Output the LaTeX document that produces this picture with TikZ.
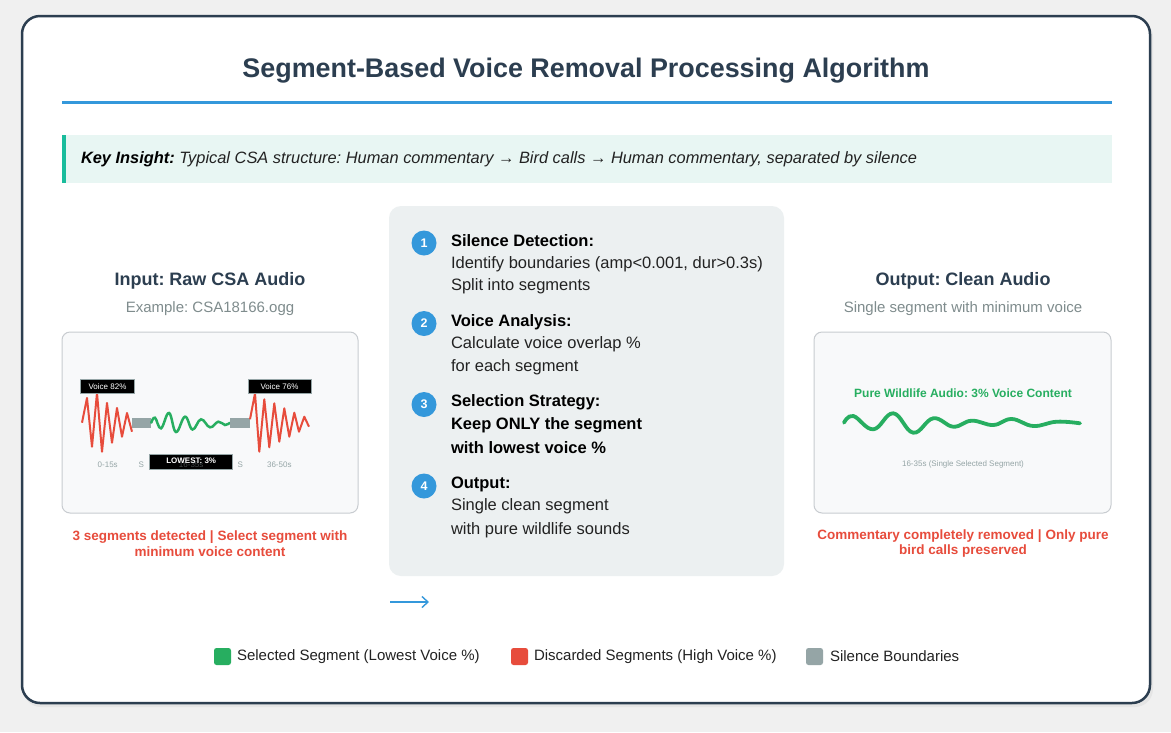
\documentclass[tikz,border=0pt]{standalone}
\usepackage{fontspec}
\setmainfont{Liberation Sans}
\usetikzlibrary{arrows.meta}
\definecolor{cbg}{HTML}{F0F0F0}
\definecolor{cdark}{HTML}{2C3E50}
\definecolor{cblue}{HTML}{3498DB}
\definecolor{cteal}{HTML}{1ABC9C}
\definecolor{ctealbg}{HTML}{E8F6F3}
\definecolor{cgray}{HTML}{7F8C8D}
\definecolor{csil}{HTML}{95A5A6}
\definecolor{cred}{HTML}{E74C3C}
\definecolor{cgreen}{HTML}{27AE60}
\definecolor{cpanel}{HTML}{ECF0F1}
\definecolor{cwave}{HTML}{F8F9FA}
\definecolor{cborder}{HTML}{C8CCD0}
\definecolor{ctext}{HTML}{222222}
\newcommand{\fsz}[1]{\fontsize{#1}{#1}\selectfont}
\frenchspacing
\begin{document}
\frenchspacing
\begin{tikzpicture}[x=1pt,y=-1pt,
  txt/.style={inner sep=0pt, outer sep=0pt},
  ptitle/.style={txt, font=\fsz{18}\bfseries, text=cdark},
  psub/.style={txt, font=\fsz{15}, text=cgray},
  redcap/.style={txt, font=\fsz{13.5}\bfseries, text=cred, align=center},
  stepnum/.style={circle, fill=cblue, minimum size=25pt, inner sep=0pt, text=white, font=\fsz{12.5}\bfseries},
  stephead/.style={txt, anchor=west, font=\fsz{16.5}\bfseries, text=black},
  stepline/.style={txt, anchor=west, font=\fsz{16.5}, text=ctext},
  stepbold/.style={txt, anchor=west, font=\fsz{16.5}\bfseries, text=black},
  wavebox/.style={draw=cborder, line width=1pt, fill=cwave, rounded corners=8pt},
  tag/.style={fill=black, draw=csil, line width=0.6pt, text=white, font=\fsz{8}, inner sep=0pt},
  tiny/.style={txt, font=\fsz{8}, text=csil},
  legsq/.style={rounded corners=2.5pt},
  legtxt/.style={txt, anchor=west, font=\fsz{15}, text=ctext},
]
\fill[cbg] (0,0) rectangle (1171,732);
\useasboundingbox (0,0) rectangle (1171,732);
% card
\fill[black!10, rounded corners=18pt] (23,19) rectangle (1153,707);
\draw[cdark, line width=2.5pt, fill=white, rounded corners=18pt] (22,16) rectangle (1150,703);
% title
\node[txt, font=\fsz{26.9}\bfseries, text=cdark] (title) at (586,71) {Segment-Based Voice Removal Processing Algorithm};
\fill[cblue] (62,100.5) rectangle (1112,104);
% key insight
\fill[ctealbg] (62,135) rectangle (1112,183);
\fill[cteal] (62,135) rectangle (65.5,183);
\node[txt, anchor=west, font=\fsz{16.4}\itshape, text=ctext] (insight) at (81,159) {\textbf{\color{black}Key Insight:} Typical CSA structure: Human commentary → Bird calls → Human commentary, separated by silence};

% ---------- input panel
\node[ptitle] (intitle) at (210,281) {Input: Raw CSA Audio};
\node[psub] (insub) at (210,309) {Example: CSA18166.ogg};
\draw[wavebox] (62,332) rectangle (358,513);
\draw[cred, line width=2pt, line join=round] plot coordinates {(82,422.7) (87,398) (92,446.7) (97,392.7) (102,451.7) (107,403) (112,442.7) (117,408) (122,436.7) (127,413) (132,431.7)};
\fill[csil] (132,418.3) rectangle (151.3,427.7);
\draw[cgreen, line width=2.5pt, line cap=round] plot[smooth, tension=0.7] coordinates {(151.3,422.7) (155,417.7) (161,428.3) (169,413) (176,432) (185,416.7) (192.5,429.5) (201,419.3) (210,427.3) (218.3,421.7) (225,425) (230,422.7)};
\fill[csil] (230.3,418.3) rectangle (249.7,427.7);
\draw[cred, line width=2pt, line join=round] plot coordinates {(250,419.3) (255,393.3) (259.3,451.7) (264.3,399.3) (269.3,447.3) (274.3,403.3) (279.3,441.7) (284.3,408.3) (289.3,436.7) (294.3,412.7) (299,431.7) (304.3,416.7) (309,426.7)};
\node[tag, minimum width=54pt, minimum height=14pt] (v82) at (107.5,386.2) {Voice 82\%};
\node[tag, minimum width=63pt, minimum height=14pt] (v76) at (279.5,386.2) {Voice 76\%};
\node[tiny] (l1) at (107.7,464.3) {0-15s};
\node[tiny] (s1) at (141.3,464.3) {S};
\node[tag, minimum width=83pt, minimum height=15pt, font=\fsz{8}\bfseries] (low) at (191.2,461.8) {};
\node[txt, text=white, font=\fsz{8}\bfseries] (lowt) at (191.2,460.5) {LOWEST: 3\%};
\node[tiny, opacity=0.45] (l2) at (191.2,465) {16-35s};
\node[tiny] (s2) at (240.3,464.3) {S};
\node[tiny] (l3) at (279.3,464.3) {36-50s};
\node[redcap] (incap) at (210,543.5) {3 segments detected | Select segment with\\[2pt]minimum voice content};

% ---------- center panel
\fill[cpanel, rounded corners=12pt] (389,206) rectangle (784,576);
\node[stepnum] (n1) at (424,243) {1};
\node[stephead] (h1) at (451,241) {Silence Detection:};
\node[stepline] (a1) at (451,264) {Identify boundaries (amp<0.001, dur>0.3s)};
\node[stepline] (b1) at (451,286) {Split into segments};
\node[stepnum] (n2) at (424,323.5) {2};
\node[stephead] (h2) at (451,322) {Voice Analysis:};
\node[stepline] (a2) at (451,344) {Calculate voice overlap \%};
\node[stepline] (b2) at (451,367) {for each segment};
\node[stepnum] (n3) at (424,404.5) {3};
\node[stephead] (h3) at (451,402) {Selection Strategy:};
\node[stepbold] (a3) at (451,425) {Keep ONLY the segment};
\node[stepbold] (b3) at (451,448) {with lowest voice \%};
\node[stepnum] (n4) at (424,486) {4};
\node[stephead] (h4) at (451,484) {Output:};
\node[stepline] (a4) at (451,506) {Single clean segment};
\node[stepline] (b4) at (451,530) {with pure wildlife sounds};
\coordinate (arrA) at (390,602);
\coordinate (arrB) at (429,602);
\draw[cblue, line width=1.4pt, -{Straight Barb[length=6pt,width=11pt,line width=1.4pt]}] (arrA) -- (arrB);

% ---------- output panel
\node[ptitle] (outtitle) at (963,281) {Output: Clean Audio};
\node[psub] (outsub) at (963,309) {Single segment with minimum voice};
\draw[wavebox] (814,332) rectangle (1111,513);
\node[txt, font=\fsz{12}\bfseries, text=cgreen] (pure) at (963,393.5) {Pure Wildlife Audio: 3\% Voice Content};
\draw[cgreen, line width=3.8pt, line cap=round] plot[smooth, tension=0.7] coordinates {(844,422.7) (853.3,416) (873.3,429.3) (893.3,413.3) (913.3,432.7) (933.3,418.3) (953.3,426.7) (971.7,420.7) (993.3,425) (1011.7,419) (1033.3,426) (1056.7,421.7) (1080,423.3)};
\node[tiny] (outlbl) at (963,464.5) {16-35s (Single Selected Segment)};
\node[redcap] (outcap) at (963,543.5) {Commentary completely removed | Only pure\\[2pt]bird calls preserved};

% ---------- legend
\fill[cgreen, legsq] (214,648) rectangle (231,665);
\node[legtxt] (lg1) at (237,656.5) {Selected Segment (Lowest Voice \%)};
\fill[cred, legsq] (511,648) rectangle (528,665);
\node[legtxt] (lg2) at (534,656.5) {Discarded Segments (High Voice \%)};
\fill[csil, legsq] (806,648) rectangle (823,665);
\node[legtxt] (lg3) at (830,656.5) {Silence Boundaries};
\end{tikzpicture}
\end{document}
